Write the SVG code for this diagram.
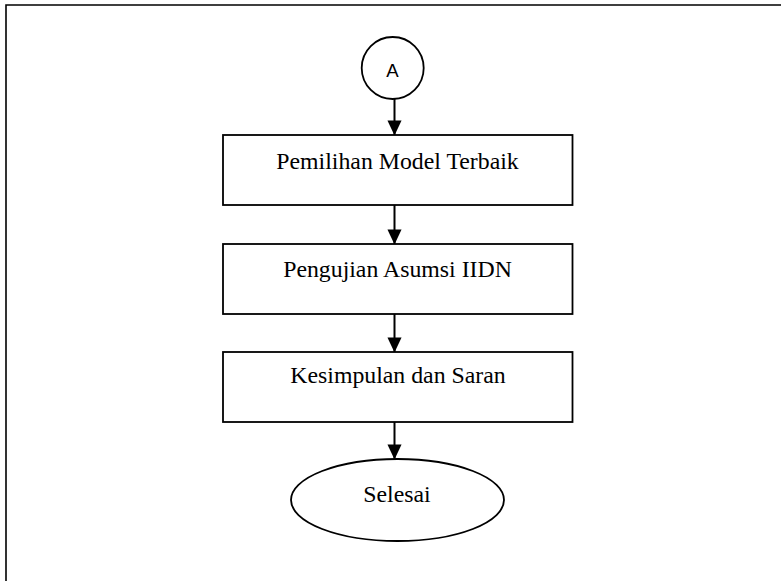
<svg xmlns="http://www.w3.org/2000/svg" width="781" height="581" viewBox="0 0 781 581">
<style>
.shape{fill:#fff;stroke:#000;stroke-width:1.8}
.lbl{font-family:"Liberation Serif","Times New Roman",serif;font-size:23.8px;fill:#000;text-anchor:middle}
.lblA{font-family:"Liberation Sans",Arial,sans-serif;font-size:18.6px;fill:#000;text-anchor:middle}
.conn{stroke:#000;stroke-width:2;fill:none}
</style>
<defs>
<marker id="arr" markerUnits="userSpaceOnUse" markerWidth="15" markerHeight="16" refX="15.5" refY="7.5" orient="auto" viewBox="0 0 16 15">
<path d="M0,0 L16,7.5 L0,15 Z" fill="#000"/>
</marker>
</defs>
<rect width="781" height="581" fill="#fff"/>
<path d="M6,581 V5 H781" fill="none" stroke="#000" stroke-width="1.6"/>
<g id="connectors">
<line class="conn" x1="394.5" y1="99" x2="394.5" y2="135" marker-end="url(#arr)"/>
<line class="conn" x1="394.5" y1="205" x2="394.5" y2="244" marker-end="url(#arr)"/>
<line class="conn" x1="394.5" y1="314" x2="394.5" y2="352" marker-end="url(#arr)"/>
<line class="conn" x1="394.5" y1="422" x2="394.5" y2="459" marker-end="url(#arr)"/>
</g>
<g id="nodeA">
<circle class="shape" cx="392.7" cy="68" r="31"/>
<text class="lblA" x="392.5" y="76.7">A</text>
</g>
<g id="node1">
<rect class="shape" x="223" y="135" width="349.5" height="70"/>
<text class="lbl" x="397.5" y="169">Pemilihan Model Terbaik</text>
</g>
<g id="node2">
<rect class="shape" x="223" y="244" width="349.5" height="70"/>
<text class="lbl" x="397.5" y="276.7">Pengujian Asumsi IIDN</text>
</g>
<g id="node3">
<rect class="shape" x="223" y="352" width="349.5" height="70"/>
<text class="lbl" x="398" y="383">Kesimpulan dan Saran</text>
</g>
<g id="nodeEnd">
<ellipse class="shape" cx="397.5" cy="500" rx="106.5" ry="41"/>
<text class="lbl" x="397" y="501.7">Selesai</text>
</g>
</svg>
